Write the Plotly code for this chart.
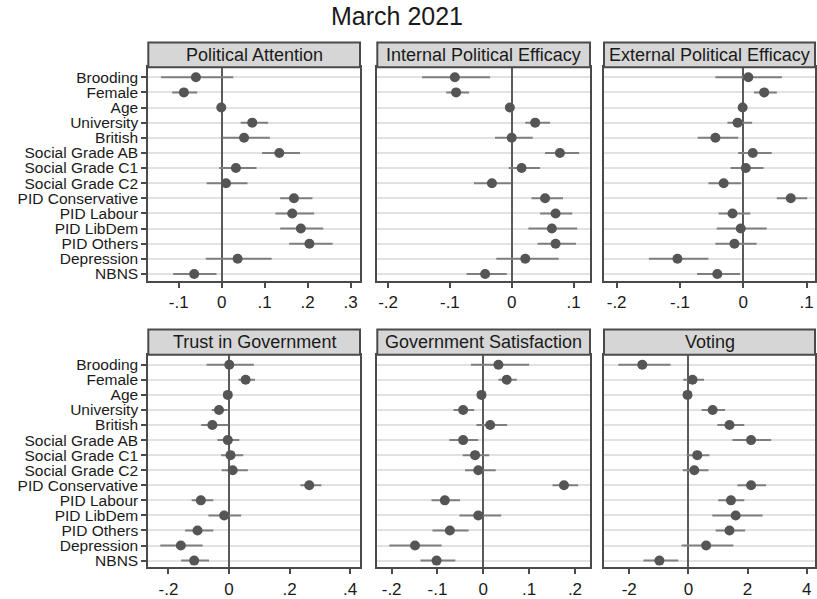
import plotly.graph_objects as go

# ---------------- data ----------------
variables = ["Brooding", "Female", "Age", "University", "British",
             "Social Grade AB", "Social Grade C1", "Social Grade C2",
             "PID Conservative", "PID Labour", "PID LibDem", "PID Others",
             "Depression", "NBNS"]

panel_titles = ["Political Attention", "Internal Political Efficacy", "External Political Efficacy",
                "Trust in Government", "Government Satisfaction", "Voting"]

pa_est = [-0.060, -0.088, -0.001, 0.071, 0.052, 0.134, 0.033, 0.010, 0.168, 0.164, 0.184, 0.204, 0.037, -0.064]
pa_lo  = [-0.141, -0.115, -0.004, 0.044, 0.002, 0.094, -0.006, -0.035, 0.136, 0.125, 0.136, 0.157, -0.037, -0.113]
pa_hi  = [0.027, -0.057, 0.002, 0.108, 0.112, 0.182, 0.081, 0.060, 0.211, 0.215, 0.236, 0.258, 0.116, -0.012]

ipe_est = [-0.092, -0.090, -0.003, 0.038, 0.000, 0.078, 0.016, -0.032, 0.054, 0.071, 0.065, 0.071, 0.022, -0.043]
ipe_lo  = [-0.145, -0.106, -0.006, 0.022, -0.027, 0.054, -0.005, -0.061, 0.032, 0.046, 0.027, 0.042, -0.025, -0.073]
ipe_hi  = [-0.035, -0.069, 0.000, 0.062, 0.034, 0.109, 0.046, -0.001, 0.083, 0.098, 0.106, 0.104, 0.076, -0.008]

epe_est = [0.008, 0.033, -0.001, -0.009, -0.044, 0.015, 0.004, -0.031, 0.075, -0.017, -0.004, -0.014, -0.104, -0.041]
epe_lo  = [-0.044, 0.017, -0.004, -0.025, -0.072, -0.008, -0.020, -0.055, 0.053, -0.039, -0.042, -0.044, -0.149, -0.073]
epe_hi  = [0.061, 0.053, 0.002, 0.014, -0.008, 0.045, 0.032, -0.003, 0.101, 0.011, 0.037, 0.021, -0.055, -0.005]

tig_est = [0.001, 0.055, -0.004, -0.033, -0.055, -0.004, 0.005, 0.012, 0.265, -0.093, -0.016, -0.104, -0.159, -0.115]
tig_lo  = [-0.074, 0.031, -0.008, -0.057, -0.092, -0.038, -0.026, -0.024, 0.236, -0.123, -0.068, -0.145, -0.227, -0.158]
tig_hi  = [0.082, 0.086, 0.000, -0.004, -0.002, 0.034, 0.047, 0.062, 0.305, -0.052, 0.040, -0.052, -0.087, -0.066]

gs_est = [0.033, 0.051, -0.004, -0.044, 0.015, -0.044, -0.018, -0.011, 0.176, -0.084, -0.011, -0.073, -0.149, -0.102]
gs_lo  = [-0.027, 0.033, -0.007, -0.065, -0.015, -0.074, -0.045, -0.040, 0.151, -0.113, -0.052, -0.111, -0.205, -0.137]
gs_hi  = [0.100, 0.073, -0.001, -0.020, 0.052, -0.011, 0.013, 0.027, 0.207, -0.051, 0.039, -0.032, -0.091, -0.061]

vot_est = [-1.56, 0.14, -0.03, 0.82, 1.39, 2.12, 0.30, 0.20, 2.12, 1.44, 1.60, 1.39, 0.60, -0.98]
vot_lo  = [-2.37, -0.17, -0.06, 0.45, 0.98, 1.49, -0.06, -0.19, 1.66, 1.01, 0.81, 0.92, -0.23, -1.52]
vot_hi  = [-0.60, 0.53, 0.00, 1.24, 1.89, 2.80, 0.71, 0.68, 2.63, 1.89, 2.51, 1.92, 1.52, -0.34]

tick_vals = [
    [-0.1, 0, 0.1, 0.2, 0.3],
    [-0.2, -0.1, 0, 0.1],
    [-0.2, -0.1, 0, 0.1],
    [-0.2, 0, 0.2, 0.4],
    [-0.2, -0.1, 0, 0.1, 0.2],
    [-2, 0, 2, 4],
]
tick_text = [
    ["-.1", "0", ".1", ".2", ".3"],
    ["-.2", "-.1", "0", ".1"],
    ["-.2", "-.1", "0", ".1"],
    ["-.2", "0", ".2", ".4"],
    ["-.2", "-.1", "0", ".1", ".2"],
    ["-2", "0", "2", "4"],
]
x_ranges = [
    [-0.1707, 0.3216],
    [-0.2175, 0.1267],
    [-0.2200, 0.1133],
    [-0.2665, 0.4326],
    [-0.2313, 0.2328],
    [-2.855, 4.283],
]

series = [(pa_est, pa_lo, pa_hi), (ipe_est, ipe_lo, ipe_hi), (epe_est, epe_lo, epe_hi),
          (tig_est, tig_lo, tig_hi), (gs_est, gs_lo, gs_hi), (vot_est, vot_lo, vot_hi)]

# ---------------- layout geometry (pixels) ----------------
W, H = 817, 599
col_x = [(148.3, 360.0), (377.3, 590.0), (604.0, 815.0)]
row_plot = [(67.5, 281.7), (356.0, 569.3)]
row_head = [(42.7, 67.5), (330.5, 356.0)]

FONT = "Liberation Sans, Arial, Helvetica, sans-serif"
FRAME = "#4a4a4a"
HEAD_FILL = "#d6d6d6"
GRID = "#e2e2e2"
MARK = "#555555"
CI = "#7f7f7f"
TXT = "#1a1a1a"

fig = go.Figure()
shapes = []
annotations = []

for i, (est, lo, hi) in enumerate(series):
    r, c = divmod(i, 3)
    ax_id = "" if i == 0 else str(i + 1)
    x0, x1 = col_x[c]
    y0, y1 = row_plot[r]
    err_plus = [h - e for e, h in zip(est, hi)]
    err_minus = [e - l for e, l in zip(est, lo)]
    fig.add_trace(go.Scatter(
        x=est, y=variables, mode="markers",
        marker=dict(color=MARK, size=10, line=dict(width=0)),
        error_x=dict(type="data", array=err_plus, arrayminus=err_minus,
                     color=CI, thickness=2, width=0),
        xaxis="x" + ax_id, yaxis="y" + ax_id, showlegend=False,
        hoverinfo="x+y",
    ))
    fig.layout["xaxis" + ax_id] = dict(
        domain=[x0 / W, x1 / W], anchor="y" + ax_id, range=x_ranges[i],
        tickmode="array", tickvals=tick_vals[i], ticktext=tick_text[i],
        ticks="outside", ticklen=5, tickwidth=1.5, tickcolor=FRAME,
        showgrid=False, zeroline=True, zerolinecolor="#5a5a5a", zerolinewidth=2,
        showline=True, linecolor=FRAME, linewidth=2, mirror=True,
        tickfont=dict(family=FONT, size=17, color=TXT), fixedrange=True,
    )
    fig.layout["yaxis" + ax_id] = dict(
        domain=[1 - y1 / H, 1 - y0 / H], anchor="x" + ax_id,
        type="category", categoryarray=variables, categoryorder="array",
        tickmode="array", tickvals=variables, ticktext=variables,
        range=[13.45, -0.66],
        showgrid=True, gridcolor=GRID, gridwidth=1.5,
        ticks="outside" if c == 0 else "", ticklen=5, tickwidth=1.5, tickcolor=FRAME,
        showticklabels=(c == 0),
        showline=True, linecolor=FRAME, linewidth=2, mirror=True,
        tickfont=dict(family=FONT, size=15.5, color=TXT), fixedrange=True,
    )
    hy0, hy1 = row_head[r]
    shapes.append(dict(type="rect", xref="paper", yref="paper",
                       x0=x0 / W, x1=x1 / W, y0=1 - hy1 / H, y1=1 - hy0 / H,
                       fillcolor=HEAD_FILL, line=dict(color=FRAME, width=2), layer="above"))
    annotations.append(dict(text=panel_titles[i], xref="paper", yref="paper",
                            x=(x0 + x1) / 2 / W, y=1 - (hy0 + hy1) / 2 / H,
                            xanchor="center", yanchor="middle", showarrow=False,
                            font=dict(family=FONT, size=18, color=TXT)))

annotations.append(dict(text="March 2021", xref="paper", yref="paper",
                        x=397 / W, y=1 - 16 / H, xanchor="center", yanchor="middle",
                        showarrow=False, font=dict(family=FONT, size=25, color=TXT)))

fig.update_layout(
    width=W, height=H, autosize=False,
    margin=dict(l=0, r=0, t=0, b=0),
    paper_bgcolor="white", plot_bgcolor="white",
    shapes=shapes, annotations=annotations,
)

fig.write_html("out.html")
